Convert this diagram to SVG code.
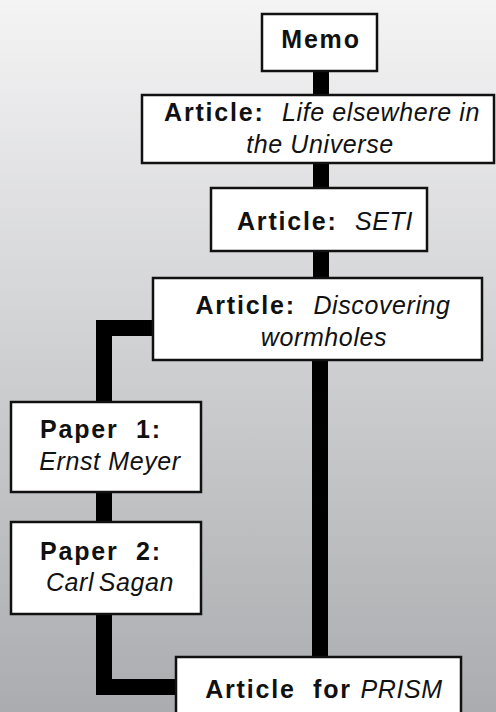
<svg xmlns="http://www.w3.org/2000/svg" width="496" height="712" viewBox="0 0 496 712">
  <defs>
    <linearGradient id="bg" x1="0" y1="0" x2="0" y2="1">
      <stop offset="0" stop-color="#f4f4f5"/>
      <stop offset="1" stop-color="#abacaf"/>
    </linearGradient>
    <style>
      .box { fill: #ffffff; stroke: #111111; stroke-width: 2.5; }
      .conn { fill: none; stroke: #000000; stroke-width: 16; stroke-linejoin: miter; stroke-linecap: butt; }
      text { font-family: "Liberation Sans", Arial, sans-serif; font-size: 24px; fill: #111111; text-anchor: middle; white-space: pre; }
      .b { font-weight: bold; font-size: 25px; letter-spacing: 1.8px; }
      .i { font-style: italic; font-size: 25px; letter-spacing: 0.6px; }
    </style>
  </defs>
  <rect x="0" y="0" width="496" height="712" fill="url(#bg)"/>

  <g id="connectors">
    <path class="conn" d="M321 72 V94"/>
    <path class="conn" d="M321 163 V188"/>
    <path class="conn" d="M321 251 V278"/>
    <path class="conn" d="M320 360 V657"/>
    <path class="conn" d="M153 328 H104 V402"/>
    <path class="conn" d="M104 492 V522"/>
    <path class="conn" d="M104 614 V687 H176"/>
  </g>

  <g id="memo">
    <rect class="box" x="262" y="14" width="115" height="57"/>
    <text x="321" y="48" class="b" xml:space="preserve">Memo</text>
  </g>

  <g id="article-life">
    <rect class="box" x="142" y="95" width="352" height="68"/>
    <text x="322" y="121" xml:space="preserve"><tspan class="b">Article:  </tspan><tspan class="i">Life elsewhere in</tspan></text>
    <text x="320" y="153" class="i" xml:space="preserve">the Universe</text>
  </g>

  <g id="article-seti">
    <rect class="box" x="211" y="188" width="216" height="63"/>
    <text x="325" y="230" xml:space="preserve"><tspan class="b">Article:  </tspan><tspan class="i">SETI</tspan></text>
  </g>

  <g id="article-wormholes">
    <rect class="box" x="153" y="278" width="329" height="82"/>
    <text x="323" y="314" xml:space="preserve"><tspan class="b">Article:  </tspan><tspan class="i">Discovering</tspan></text>
    <text x="324" y="346" class="i" xml:space="preserve">wormholes</text>
  </g>

  <g id="paper1">
    <rect class="box" x="11" y="402" width="190" height="90"/>
    <text x="101" y="438" class="b" xml:space="preserve">Paper  1:</text>
    <text x="110" y="470" class="i" xml:space="preserve">Ernst Meyer</text>
  </g>

  <g id="paper2">
    <rect class="box" x="11" y="522" width="190" height="92"/>
    <text x="101" y="560" class="b" xml:space="preserve">Paper  2:</text>
    <text x="110" y="591" class="i" word-spacing="-3" xml:space="preserve">Carl Sagan</text>
  </g>

  <g id="article-prism">
    <rect class="box" x="176" y="657" width="285" height="70"/>
    <text x="324" y="698" xml:space="preserve"><tspan class="b">Article  for </tspan><tspan class="i">PRISM</tspan></text>
  </g>
</svg>
